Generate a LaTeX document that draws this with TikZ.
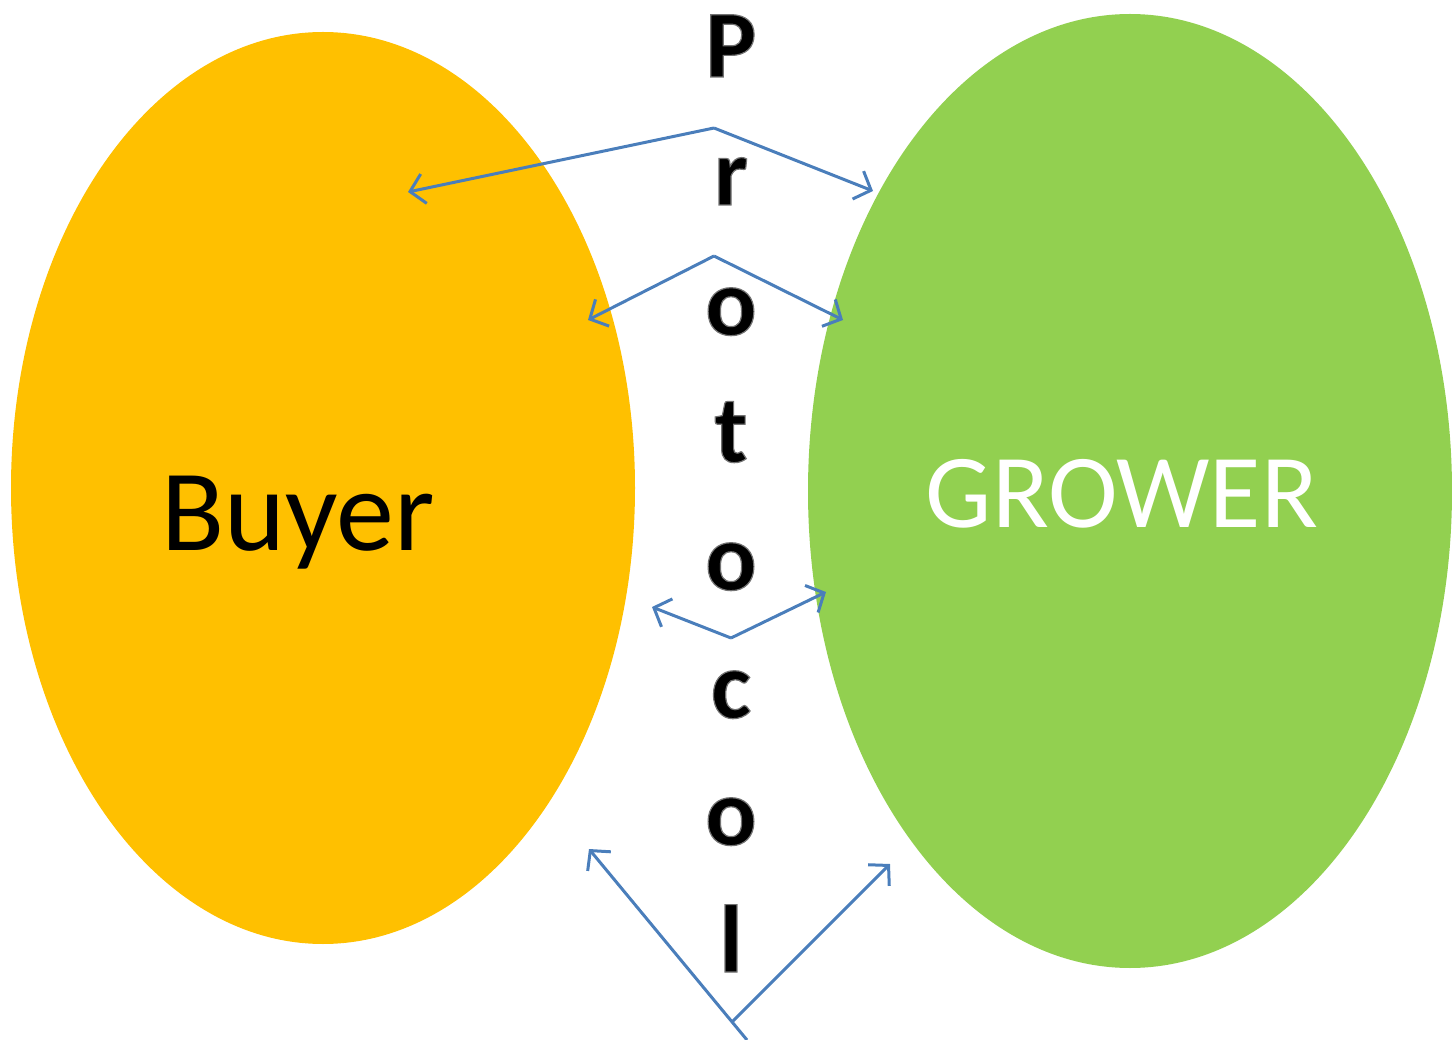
\documentclass[tikz,border=0pt]{standalone}
\usepackage{fontspec}
\setmainfont{Carlito}
\usetikzlibrary{arrows.meta}
\definecolor{buyerc}{HTML}{FFC000}
\definecolor{growerc}{HTML}{92D050}
\definecolor{arrowc}{HTML}{4A7EBB}
\newcommand{\outl}[1]{\special{pdf:literal direct 2 Tr 1.2 w 0.45 0.45 0.45 RG}#1\special{pdf:literal direct 0 Tr}}
\begin{document}
\begin{tikzpicture}[x=1pt,y=-1pt,
  letter/.style={anchor=base,inner sep=0pt,font=\fontsize{96}{96}\selectfont\bfseries},
  link/.style={draw=arrowc,line width=3pt,-{Straight Barb[length=14pt,width=30pt,line width=3pt]}}]
\useasboundingbox (0,0) rectangle (1452,1040);
\fill[buyerc] (323,488) ellipse [x radius=312, y radius=456];
\fill[growerc] (1130,491) ellipse [x radius=322, y radius=477];
\node[anchor=base,inner sep=0pt,font=\fontsize{116}{116}\selectfont] (buyer) at (298,550) {Buyer};
\node[anchor=base,inner sep=0pt,text=white,font=\fontsize{105}{105}\selectfont] (grower) at (1122,528) {GROWER};
\node[letter] (l1) at (731,77) {\outl{P}};
\node[letter] (l2) at (731,205) {\outl{r}};
\node[letter] (l3) at (731,335) {\outl{o}};
\node[letter] (l4) at (731,462) {\outl{t}};
\node[letter] (l5) at (731,590) {\outl{o}};
\node[letter] (l6) at (731,718) {\outl{c}};
\node[letter] (l7) at (731,845) {\outl{o}};
\node[letter] (l8) at (731,972) {\outl{l}};
% arrow pair 1
\coordinate (a1) at (714,128);
\coordinate (a1l) at (408,192);
\coordinate (a1r) at (873,191);
\draw[link] (a1) -- (a1l);
\draw[link] (a1) -- (a1r);
% arrow pair 2
\coordinate (a2) at (714,256);
\coordinate (a2l) at (588,320);
\coordinate (a2r) at (843,320);
\draw[link] (a2) -- (a2l);
\draw[link] (a2) -- (a2r);
% arrow pair 3
\coordinate (a3) at (731,638);
\coordinate (a3l) at (652,607);
\coordinate (a3r) at (826,592);
\draw[link] (a3) -- (a3l);
\draw[link] (a3) -- (a3r);
% arrow pair 4
\coordinate (a4s) at (747,1040);
\coordinate (a4l) at (589,849);
\coordinate (a4) at (732,1022);
\coordinate (a4r) at (890,864);
\draw[link] (a4s) -- (a4l);
\draw[link] (a4) -- (a4r);
\end{tikzpicture}
\end{document}
